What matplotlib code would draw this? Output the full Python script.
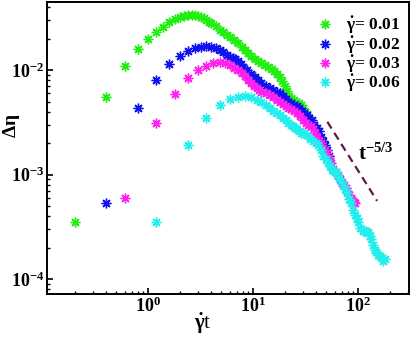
import numpy as np
import matplotlib
matplotlib.use("Agg")
import matplotlib.pyplot as plt
from matplotlib.ticker import LogLocator, LogFormatterMathtext, NullFormatter

# ---------------------------------
# Data
# ---------------------------------

labels = [r"$\dot{\gamma}$= 0.01", r"$\dot{\gamma}$= 0.02",
          r"$\dot{\gamma}$= 0.03", r"$\dot{\gamma}$= 0.06"]
colors = ["#22ee11", "#1111ee", "#ff22ee", "#22eeee"]

x_001 = [0.2, 0.4, 0.6, 0.8, 1.0, 1.2, 1.4, 1.6, 1.8, 2.0, 2.2, 2.4, 2.6, 2.8,
         3.0, 3.2, 3.4, 3.6, 3.8, 4.0, 4.4, 4.8, 5.2, 5.6, 6.0, 6.6, 7.2, 7.8,
         8.4, 9.0, 9.6, 10.4, 11.2, 12.0, 13.0, 14.0, 15.0, 16.0, 17.0, 18.0,
         19.0, 20.0, 21.0, 22.0, 23.0, 24.4, 25.8, 27.2, 28.6, 30.0, 31.4, 32.4]
y_001 = [3.5e-4, 5.5e-3, 0.0109, 0.0160, 0.0198, 0.0231, 0.0258, 0.0288,
         0.0308, 0.0320, 0.0330, 0.0336, 0.0338, 0.0336, 0.0330, 0.0320,
         0.0312, 0.0300, 0.0290, 0.0282, 0.0262, 0.0243, 0.0230, 0.0218,
         0.0207, 0.0192, 0.0180, 0.0168, 0.0157, 0.0146, 0.0137, 0.0128,
         0.0121, 0.0117, 0.0112, 0.0108, 0.0103, 0.0098, 0.0092, 0.0085,
         0.0078, 0.0070, 0.0063, 0.0057, 0.0054, 0.0052, 0.0050, 0.0048,
         0.0046, 0.0043, 0.0040, 0.0038]

x_002 = [0.4, 0.8, 1.2, 1.6, 2.0, 2.4, 2.8, 3.2, 3.6, 4.0, 4.4, 4.8, 5.2, 5.6,
         6.0, 6.4, 6.8, 7.2, 7.6, 8.0, 8.8, 9.6, 10.4, 11.2, 12.0, 13.2, 14.4,
         15.6, 16.8, 18.0, 19.2, 20.4, 21.6, 22.8, 24.4, 26.0, 27.6, 29.2,
         30.8, 32.4, 34.4, 36.4, 38.4, 40.4, 42.4, 44.4, 46.4, 48.4, 50.4,
         52.4, 54.4]
y_002 = [5.3e-4, 0.00433, 0.0080, 0.0114, 0.0136, 0.0152, 0.0162, 0.0168,
         0.0171, 0.0168, 0.0162, 0.0156, 0.0148, 0.0140, 0.0134, 0.0130,
         0.0127, 0.0122, 0.0115, 0.0108, 0.0101, 0.0092, 0.0086, 0.0080,
         0.0076, 0.0071, 0.0067, 0.0064, 0.0062, 0.0060, 0.0057, 0.0053,
         0.0050, 0.0048, 0.0046, 0.0045, 0.0043, 0.0041, 0.0039, 0.0037,
         0.0035, 0.0033, 0.0030, 0.0028, 0.0026, 0.0023, 0.0021, 0.0019,
         0.0017, 0.0015, 0.0013]

x_003 = [0.6, 1.2, 1.8, 2.4, 3.0, 3.6, 4.2, 4.8, 5.4, 6.0, 6.6, 7.2, 7.8, 8.4,
         9.0, 9.6, 10.2, 10.8, 11.4, 12.0, 13.2, 14.4, 15.6, 16.8, 18.0, 19.2,
         20.4, 21.6, 22.8, 24.6, 26.4, 28.2, 30.0, 31.8, 33.6, 35.4, 37.2,
         39.0, 40.8, 42.6, 44.4, 46.2, 48.6, 51.0, 53.4, 55.8, 58.2, 61.2,
         64.2, 67.2, 70.2, 73.2, 76.2, 79.2, 82.2, 85.2, 88.2, 91.2, 93.6]
y_003 = [5.9e-4, 0.00311, 0.0059, 0.0084, 0.0100, 0.0110, 0.0116, 0.0119,
         0.0117, 0.0111, 0.0105, 0.0100, 0.0094, 0.0087, 0.0080, 0.0075,
         0.0071, 0.0067, 0.0064, 0.0062, 0.0060, 0.0058, 0.0055, 0.0052,
         0.0049, 0.0047, 0.0045, 0.0043, 0.0042, 0.0041, 0.0039, 0.0036,
         0.0033, 0.0031, 0.0030, 0.0029, 0.0027, 0.0025, 0.0023, 0.0021,
         0.0020, 0.0018, 0.0017, 0.0016, 0.00145, 0.00130, 0.00112, 0.00105,
         0.00098, 0.00090, 0.00083, 0.00079, 0.00075, 0.00070, 0.00064,
         0.00060, 0.00057, 0.00055, 0.00054]

x_006 = [1.2, 2.4, 3.6, 4.8, 6.0, 7.2, 8.4, 9.6, 10.8, 12.0, 13.2, 14.4, 15.6,
         16.8, 18.0, 19.2, 20.4, 21.6, 22.8, 24.0, 25.2, 26.4, 27.6, 28.8,
         30.0, 32.4, 34.8, 37.2, 39.6, 42.0, 44.4, 46.8, 49.2, 51.6, 54.0,
         56.4, 58.8, 61.2, 63.6, 66.0, 68.4, 72.0, 75.6, 79.2, 82.8, 86.4,
         90.0, 93.6, 97.2, 100.8, 105.6, 110.4, 115.2, 120.0, 124.8, 129.6,
         134.4, 139.2, 144.0, 148.8, 153.6, 160.8, 168.0, 174.0, 180.0]
y_006 = [3.55e-4, 0.00192, 0.00347, 0.00463, 0.0053, 0.0055, 0.0056, 0.0055,
         0.0052, 0.0049, 0.0046, 0.0043, 0.0041, 0.0039, 0.0037, 0.0035,
         0.0033, 0.0031, 0.0030, 0.0029, 0.0028, 0.0027, 0.0026, 0.0025,
         0.0025, 0.0024, 0.0022, 0.0021, 0.0020, 0.0019, 0.0017, 0.0015,
         0.0014, 0.0013, 0.0012, 0.0011, 0.00108, 0.00105, 0.00098, 0.00092,
         0.00086, 0.00079, 0.00073, 0.00066, 0.00058, 0.00053, 0.00046,
         0.00041, 0.00038, 0.00035, 0.00031, 0.00029, 0.00029, 0.00029,
         0.00028, 0.00026, 0.00024, 0.00021, 0.00019, 0.00018, 0.00017,
         0.000165, 0.00016, 0.00015, 0.000155]

series_x = [x_001, x_002, x_003, x_006]
series_y = [y_001, y_002, y_003, y_006]

guide_x = [51, 152]
guide_y = [3.2e-3, 5.6e-4]

# ---------------------------------
# Style
# ---------------------------------

plt.rcParams["font.family"] = "Liberation Serif"
plt.rcParams["font.weight"] = "bold"
plt.rcParams["mathtext.fontset"] = "custom"
plt.rcParams["mathtext.rm"] = "Liberation Serif:bold"
plt.rcParams["mathtext.it"] = "Liberation Serif:bold"
plt.rcParams["mathtext.bf"] = "Liberation Serif:bold"

fig = plt.figure(figsize=(4.11, 3.38), dpi=100)
ax = fig.add_axes([47 / 411, 1 - 294 / 338, 362 / 411, 292 / 338])

for xs, ys, c, lab in zip(series_x, series_y, colors, labels):
    ax.plot(xs, ys, linestyle="none", marker=(8, 2, 0), markersize=7,
            markeredgewidth=1.0, color=c, label=lab)

ax.plot(guide_x, guide_y, color="#5c1a4c", lw=1.6,
        linestyle=(0, (3.6, 2.3)))
ax.text(99, 1.55e-3, r"t$^{-5/3}$", fontsize=15, ha="left", va="center")

ax.set_xscale("log")
ax.set_yscale("log")
ax.set_xlim(0.109, 306)
ax.set_ylim(7.19e-5, 0.0448)

for ticks_axis in (ax.xaxis, ax.yaxis):
    ticks_axis.set_major_locator(LogLocator(base=10))
    ticks_axis.set_minor_locator(LogLocator(base=10, subs=np.arange(2, 10)))
    ticks_axis.set_major_formatter(LogFormatterMathtext())
    ticks_axis.set_minor_formatter(NullFormatter())

ax.tick_params(which="both", direction="in", top=False, right=False,
               labelsize=13, pad=2)
ax.tick_params(which="major", length=4, width=1.2)
ax.tick_params(which="minor", length=2, width=1.0)

for sp in ax.spines.values():
    sp.set_linewidth(1.4)

ax.set_xlabel(r"$\dot{\gamma}$t", fontsize=15)
ax.set_ylabel(r"$\Delta\eta$", fontsize=14)
ax.xaxis.set_label_coords(0.43, -0.058)
ax.yaxis.set_label_coords(-0.068, 0.575)

ax.legend(loc="upper right", bbox_to_anchor=(0.995, 0.978), frameon=False,
          fontsize=12.5, handlelength=0.6, handletextpad=0.9,
          labelspacing=-0.1, borderaxespad=0.0, markerscale=1.0)

fig.savefig("out.png", dpi=100)
